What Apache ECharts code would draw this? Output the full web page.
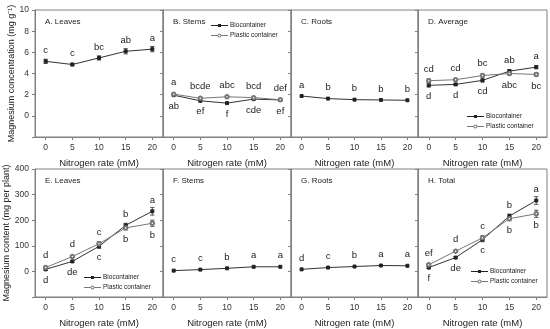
<!DOCTYPE html>
<html><head><meta charset="utf-8">
<script src="https://cdn.jsdelivr.net/npm/echarts@6/dist/echarts.min.js"></script>
<style>html,body{margin:0;padding:0;background:#fff}#c{width:550px;height:329px}</style>
</head><body><div id="c"></div>
<script>
// ---- data ----
const nitrogen = [0, 5, 10, 15, 20];
const xTicks = [0, 5, 10, 15, 20];

// Mg concentration (mg g-1)
const concLeaves = [5.15, 4.85, 5.47, 6.1, 6.3];
const concLeavesErr = [0.2, 0.12, 0.2, 0.25, 0.25];
const concLeavesLet = ['c', 'c', 'bc', 'ab', 'a'];

const concStemsBio = [1.95, 1.42, 1.2, 1.58, 1.5];
const concStemsBioLet = ['ab', 'ef', 'f', 'cde', 'ef'];
const concStemsPl = [2.05, 1.66, 1.8, 1.72, 1.52];
const concStemsPlLet = ['a', 'bcde', 'abc', 'bcd', 'def'];

const concRoots = [1.87, 1.63, 1.53, 1.5, 1.47];
const concRootsLet = ['a', 'b', 'b', 'b', 'b'];

const concAvgBio = [2.88, 2.97, 3.35, 4.22, 4.6];
const concAvgBioErr = [0.15, 0.1, 0.15, 0.15, 0.15];
const concAvgBioLet = ['d', 'd', 'cd', 'ab', 'a'];
const concAvgPl = [3.32, 3.41, 3.81, 4.0, 3.91];
const concAvgPlErr = [0.15, 0.1, 0.12, 0.15, 0.15];
const concAvgPlLet = ['cd', 'cd', 'bc', 'abc', 'bc'];

// Mg content (mg per plant)
const contLeavesBio = [8, 39, 98, 180, 235];
const contLeavesBioErr = [3, 4, 8, 8, 15];
const contLeavesBioLet = ['d', 'de', 'c', 'b', 'a'];
const contLeavesPl = [15, 58, 108, 170, 188];
const contLeavesPlErr = [3, 4, 8, 8, 12];
const contLeavesPlLet = ['d', 'd', 'c', 'b', 'b'];

const contStems = [3, 7, 12, 18, 18];
const contStemsLet = ['c', 'c', 'b', 'a', 'a'];

const contRoots = [8, 15, 19, 23, 22];
const contRootsLet = ['d', 'c', 'b', 'a', 'a'];

const contTotalBio = [15, 54, 124, 216, 277];
const contTotalBioErr = [4, 4, 8, 8, 15];
const contTotalBioLet = ['f', 'de', 'c', 'b', 'a'];
const contTotalPl = [26, 79, 131, 206, 225];
const contTotalPlErr = [4, 4, 8, 8, 14];
const contTotalPlLet = ['ef', 'd', 'c', 'b', 'b'];

const panelTitles = ['A. Leaves', 'B. Stems', 'C. Roots', 'D. Average', 'E. Leaves', 'F. Stems', 'G. Roots', 'H. Total'];
const yTitleTop = 'Magnesium concentration (mg g\u207B\u00B9)';
const yTitleBottom = 'Magnesium content (mg per plant)';
const xTitle = 'Nitrogen rate (mM)';
const BIO = 'Biocontainer', PL = 'Plastic container';

// ---- layout ----
const FONT = 'Liberation Sans, Arial, sans-serif';
const cols = [[35, 128], [163, 128], [291, 127], [418, 129]];
const rows = [[10, 127], [169, 128]];
const AX = '#808080', TXT = '#222';
const BIO_ICON = 'path://M0,2H17V3H0Z M7,1H10V4H7Z';
const PL_ICON = 'path://M0,2H6.5V3H0Z M10.5,2H17V3H10.5Z M6.5,2.5A2,2 0 1,1 10.5,2.5A2,2 0 1,1 6.5,2.5Z M7.4,2.5A1.1,1.1 0 1,0 9.6,2.5A1.1,1.1 0 1,0 7.4,2.5Z';

const grids = [], xAxes = [], yAxes = [], series = [], titles = [];
for (let r = 0; r < 2; r++) {
  for (let c = 0; c < 4; c++) {
    const k = r * 4 + c;
    grids.push({ left: cols[c][0], top: rows[r][0], width: cols[c][1], height: rows[r][1],
      show: true, borderColor: AX, borderWidth: 1, outerBoundsMode: 'none' });
    xAxes.push({ gridIndex: k, type: 'value', min: -2, max: 22,
      name: xTitle, nameLocation: 'middle', nameGap: 21,
      nameTextStyle: { fontFamily: FONT, fontSize: 9.5, color: TXT },
      axisLine: { show: true, onZero: false, lineStyle: { color: AX } },
      axisTick: { show: true, length: 3, lineStyle: { color: AX }, customValues: xTicks },
      axisLabel: { show: true, fontFamily: FONT, fontSize: 8.5, color: '#333', margin: 6, customValues: xTicks },
      splitLine: { show: false } });
    const top = r === 0;
    yAxes.push({ gridIndex: k, type: 'value', min: top ? -2 : -100, max: top ? 10 : 400, interval: top ? 2 : 100,
      name: c === 0 ? (top ? yTitleTop : yTitleBottom) : '',
      nameLocation: 'middle', nameGap: top ? 19 : 24,
      nameTextStyle: { fontFamily: FONT, fontSize: 9, color: TXT },
      axisLine: { show: true, onZero: false, lineStyle: { color: AX } },
      axisTick: { show: true, length: 3, lineStyle: { color: AX } },
      axisLabel: { show: c === 0, fontFamily: FONT, fontSize: 8.5, color: '#333', margin: 6,
        formatter: v => (v < 0 ? '' : String(v)) },
      splitLine: { show: false } });
    titles.push({ text: panelTitles[k], left: cols[c][0] + 5, top: rows[r][0] + 3,
      textStyle: { fontFamily: FONT, fontSize: 8, fontWeight: 'normal', color: TXT } });
  }
}

function lineSeries(k, name, vals, letters, other, isBio) {
  return {
    type: 'line', name: name, xAxisIndex: k, yAxisIndex: k, z: 5,
    symbol: isBio ? 'rect' : 'emptyCircle', symbolSize: isBio ? 3 : 3.5,
    itemStyle: { color: isBio ? '#222' : '#777', borderColor: isBio ? '#222' : '#777', borderWidth: 1 },
    lineStyle: { color: isBio ? '#333' : '#777', width: 1 },
    data: nitrogen.map((x, i) => ({
      value: [x, vals[i]],
      label: { position: (other && vals[i] < other[i]) ? 'bottom' : 'top' }
    })),
    label: { show: true, distance: 4, fontFamily: FONT, fontSize: 9.5, color: TXT,
      formatter: p => letters[p.dataIndex] },
    animation: false
  };
}
function errSeries(k, vals, errs) {
  return {
    type: 'custom', xAxisIndex: k, yAxisIndex: k, z: 4, silent: true,
    data: nitrogen.map((x, i) => [x, vals[i] - errs[i], vals[i] + errs[i]]),
    renderItem: (params, api) => {
      const lo = api.coord([api.value(0), api.value(1)]);
      const hi = api.coord([api.value(0), api.value(2)]);
      const w = 2.2, st = { stroke: '#333', lineWidth: 0.8 };
      return { type: 'group', children: [
        { type: 'line', shape: { x1: lo[0], y1: lo[1], x2: hi[0], y2: hi[1] }, style: st },
        { type: 'line', shape: { x1: lo[0] - w, y1: lo[1], x2: lo[0] + w, y2: lo[1] }, style: st },
        { type: 'line', shape: { x1: hi[0] - w, y1: hi[1], x2: hi[0] + w, y2: hi[1] }, style: st }
      ] };
    },
    animation: false
  };
}

// A
series.push(errSeries(0, concLeaves, concLeavesErr));
series.push(lineSeries(0, 'A', concLeaves, concLeavesLet, null, true));
// B
series.push(lineSeries(1, BIO, concStemsBio, concStemsBioLet, concStemsPl, true));
series.push(lineSeries(1, PL, concStemsPl, concStemsPlLet, concStemsBio, false));
// C
series.push(lineSeries(2, 'C', concRoots, concRootsLet, null, true));
// D
series.push(errSeries(3, concAvgBio, concAvgBioErr));
series.push(errSeries(3, concAvgPl, concAvgPlErr));
series.push(lineSeries(3, BIO, concAvgBio, concAvgBioLet, concAvgPl, true));
series.push(lineSeries(3, PL, concAvgPl, concAvgPlLet, concAvgBio, false));
// E
series.push(errSeries(4, contLeavesBio, contLeavesBioErr));
series.push(errSeries(4, contLeavesPl, contLeavesPlErr));
series.push(lineSeries(4, BIO, contLeavesBio, contLeavesBioLet, contLeavesPl, true));
series.push(lineSeries(4, PL, contLeavesPl, contLeavesPlLet, contLeavesBio, false));
// F
series.push(lineSeries(5, 'F', contStems, contStemsLet, null, true));
// G
series.push(lineSeries(6, 'G', contRoots, contRootsLet, null, true));
// H
series.push(errSeries(7, contTotalBio, contTotalBioErr));
series.push(errSeries(7, contTotalPl, contTotalPlErr));
series.push(lineSeries(7, BIO, contTotalBio, contTotalBioLet, contTotalPl, true));
series.push(lineSeries(7, PL, contTotalPl, contTotalPlLet, contTotalBio, false));

function legend(left, top) {
  return { data: [{ name: BIO, icon: BIO_ICON }, { name: PL, icon: PL_ICON }],
    orient: 'vertical', left: left, top: top,
    itemWidth: 17, itemHeight: 5, itemGap: 3, padding: 0, selectedMode: false,
    itemStyle: { borderWidth: 0 },
    textStyle: { fontFamily: FONT, fontSize: 6.5, color: TXT, padding: [0, 0, 0, -3] } };
}

const chart = echarts.init(document.getElementById('c'), null, { renderer: 'canvas' });
chart.setOption({
  animation: false,
  backgroundColor: '#fff',
  title: titles,
  grid: grids, xAxis: xAxes, yAxis: yAxes, series: series,
  legend: [legend(211, 22), legend(467, 113), legend(84, 274), legend(471, 268)]
});
</script></body></html>
